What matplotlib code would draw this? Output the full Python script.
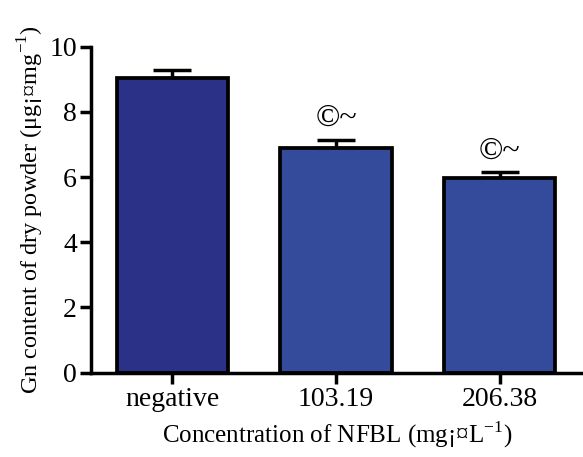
import numpy as np
import matplotlib
matplotlib.use('Agg')
import matplotlib.pyplot as plt

plt.rcParams['font.family'] = ['Liberation Serif', 'DejaVu Serif']
plt.rcParams['mathtext.fontset'] = 'custom'
plt.rcParams['mathtext.rm'] = 'Liberation Serif'

# data
groups = ['negative', '103.19', '206.38']
means = [9.05, 6.9, 5.97]
errs = [0.22, 0.25, 0.17]
marks = ['', '©~', '©~']
colors = ['#2a3186', '#344b9b', '#344b9b']

fig = plt.figure(figsize=(5.83, 4.57), dpi=100)
ax = fig.add_axes([0.1556, 0.1845, 0.8444, 0.7135])

x = np.arange(len(groups))
ax.bar(x, means, width=0.68, color=colors, edgecolor='black', linewidth=2.7, zorder=2)
ax.errorbar(x, means, yerr=[np.zeros(len(errs)), errs], fmt='none', ecolor='black',
            elinewidth=2.5, capsize=14, capthick=2.5, zorder=1)

for xi, m, e, s in zip(x, means, errs, marks):
    if s:
        ax.text(xi, m + e + 0.2, s, ha='center', va='bottom', fontsize=23)

ax.set_xlim(-0.5, 2.51)
ax.set_ylim(0, 10)
ax.set_yticks([0, 2, 4, 6, 8, 10])
ax.set_xticks(x)
ax.set_xticklabels(groups)
ax.spines['top'].set_visible(False)
ax.spines['right'].set_visible(False)
ax.spines['left'].set_linewidth(2.5)
ax.spines['bottom'].set_linewidth(2.5)
ax.tick_params(axis='both', direction='out', length=8, width=2.5, labelsize=20, pad=2)

ax.set_xlabel('Concentration of NFBL (mg¡¤L$^{-1}$)', fontsize=18, labelpad=6)
ax.set_ylabel('Gn content of dry powder (μg¡¤mg$^{-1}$)', fontsize=17.5, labelpad=2)

fig.savefig('out.png', dpi=100)
